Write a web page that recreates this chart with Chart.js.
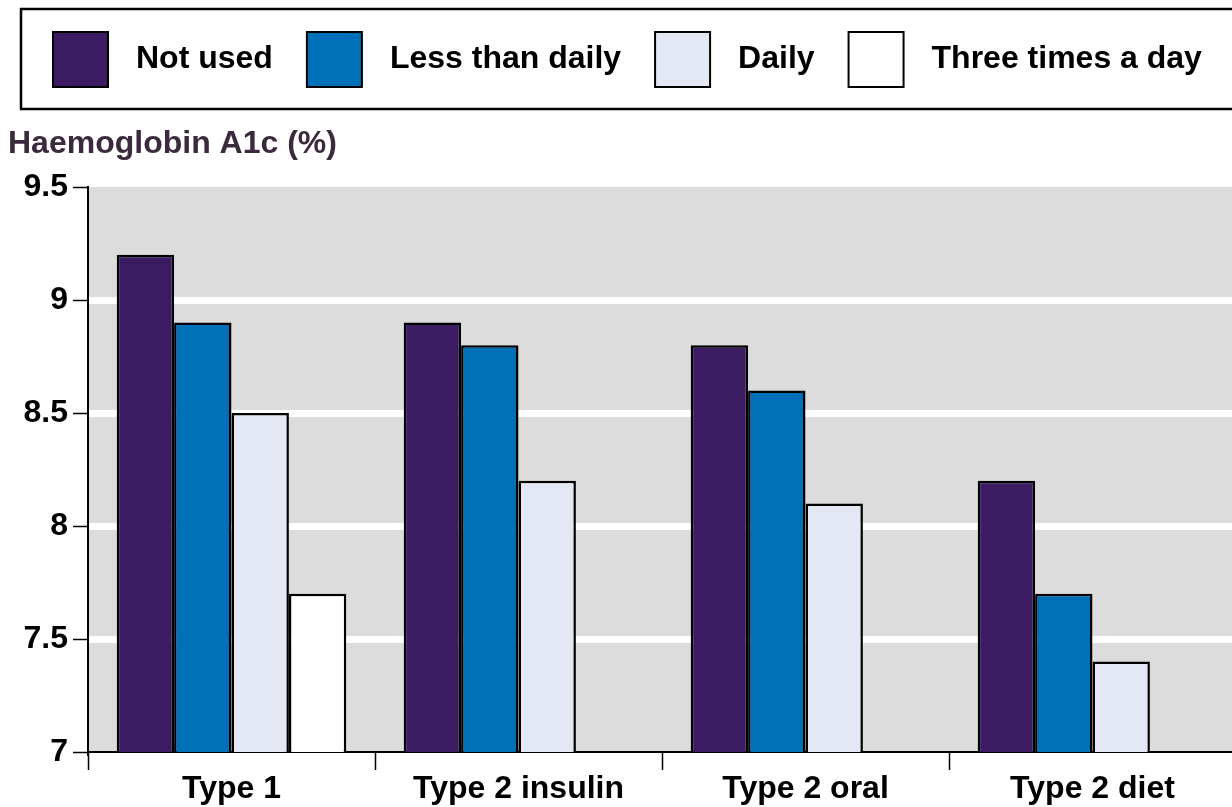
<!DOCTYPE html>
<html>
<head>
<meta charset="utf-8">
<script src="https://cdn.jsdelivr.net/npm/chart.js@4/dist/chart.umd.min.js"></script>
<style>
html, body { margin: 0; padding: 0; background: #fff; overflow: hidden; }
#wrap { position: absolute; left: 0; top: 0; width: 1240px; height: 807px; }
</style>
</head>
<body>
<div id="wrap"><canvas id="chart"></canvas></div>
<script>
const categories = ['Type 1', 'Type 2 insulin', 'Type 2 oral', 'Type 2 diet']
const seriesNames = ['Not used', 'Less than daily', 'Daily', 'Three times a day']
const notUsed = [9.2, 8.9, 8.8, 8.2]
const lessThanDaily = [8.9, 8.8, 8.6, 7.7]
const daily = [8.5, 8.2, 8.1, 7.4]
const threeTimesADay = [7.7, null, null, null]
const yTicks = [7, 7.5, 8, 8.5, 9, 9.5]
const yTitle = 'Haemoglobin A1c (%)'
const colors = ['#3b1c62', '#0070b9', '#e4e8f4', '#ffffff']

const FONT = '"Liberation Sans", Arial, sans-serif'

// grey plot panel, boxed legend and the axis title
const decor = {
  id: 'decor',
  beforeDraw (chart) {
    const { ctx, chartArea: a } = chart
    ctx.save()
    ctx.fillStyle = '#dcdcdc'
    ctx.fillRect(a.left, a.top, a.right - a.left, a.bottom - a.top)

    ctx.strokeStyle = '#000'
    ctx.lineWidth = 2.5
    ctx.strokeRect(21, 9, 1260, 100)

    ctx.font = 'bold 32px ' + FONT
    ctx.textBaseline = 'middle'
    let x = 53
    chart.data.datasets.forEach(ds => {
      ctx.fillStyle = ds.backgroundColor
      ctx.fillRect(x, 32, 55, 55)
      ctx.lineWidth = 2
      ctx.strokeRect(x, 32, 55, 55)
      ctx.fillStyle = '#000'
      ctx.fillText(ds.label, x + 83, 59)
      x += 83 + ctx.measureText(ds.label).width + 34
    })

    ctx.fillStyle = '#3b2a3d'
    ctx.textBaseline = 'alphabetic'
    ctx.fillText(yTitle, 8, 153)
    ctx.restore()
  }
}

const series = [notUsed, lessThanDaily, daily, threeTimesADay]

new Chart(document.getElementById('chart'), {
  type: 'bar',
  data: {
    labels: categories,
    datasets: series.map((values, i) => ({
      label: seriesNames[i],
      data: values,
      backgroundColor: colors[i],
      borderColor: '#000',
      borderWidth: 2.5,
      borderSkipped: false,
      barPercentage: 1,
      categoryPercentage: 0.8
    }))
  },
  options: {
    responsive: true,
    maintainAspectRatio: false,
    animation: false,
    layout: { padding: { top: 187, left: 0, right: 4, bottom: 0 } },
    plugins: {
      legend: { display: false },
      tooltip: { enabled: false }
    },
    scales: {
      x: {
        afterFit: s => { s.height = 55 },
        border: { color: '#000', width: 2 },
        grid: {
          offset: true,
          drawOnChartArea: false,
          tickColor: '#000',
          tickWidth: 1.5,
          tickLength: 18
        },
        ticks: { color: '#000', padding: 0, font: { family: FONT, size: 32, weight: 'bold' } }
      },
      y: {
        min: 7,
        max: 9.5,
        afterBuildTicks: s => { s.ticks = yTicks.map(v => ({ value: v })) },
        afterFit: s => { s.width = 88 },
        border: { color: '#000', width: 2 },
        grid: {
          color: c => (c.tick && (c.tick.value === 9.5 || c.tick.value === 7)) ? 'rgba(0,0,0,0)' : '#fff',
          lineWidth: 7,
          tickColor: '#000',
          tickWidth: 1.5,
          tickLength: 15
        },
        ticks: {
          color: '#000',
          padding: 5,
          font: { family: FONT, size: 32, weight: 'bold' },
          callback: v => String(v)
        }
      }
    }
  },
  plugins: [decor]
})
</script>
</body>
</html>
